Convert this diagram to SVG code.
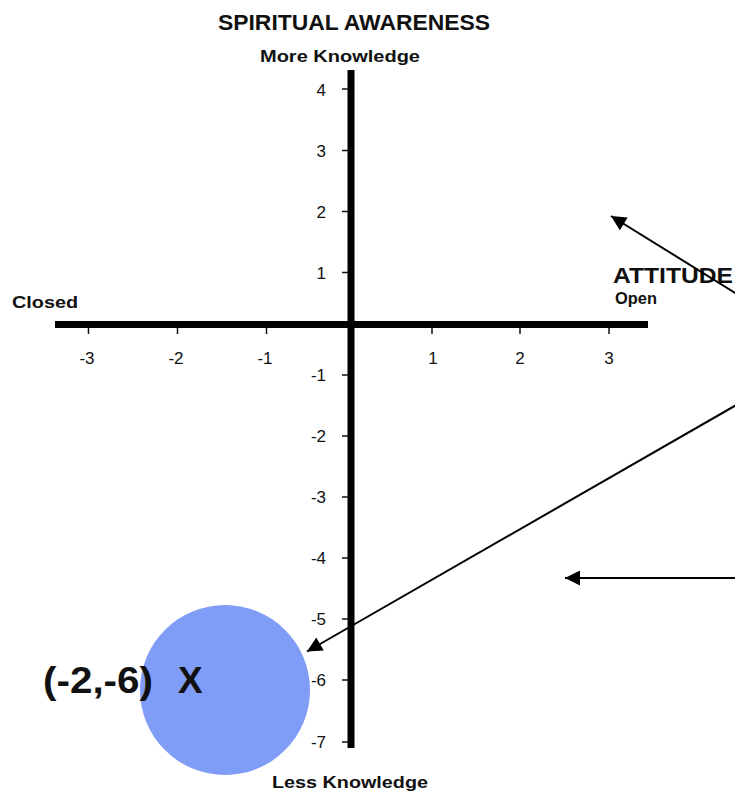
<svg xmlns="http://www.w3.org/2000/svg" width="735" height="793" viewBox="0 0 735 793">
<style>
  text { font-family: "Liberation Sans", Arial, sans-serif; fill: #111; }
  .b { font-weight: bold; }
  .tick { stroke: #111; stroke-width: 1.5; }
  .ylab { font-size: 17px; text-anchor: end; }
  .xlab { font-size: 17px; text-anchor: middle; }
  .conn { stroke: #000; stroke-width: 2; fill: none; marker-end: url(#ah); }
</style>
<defs>
  <marker id="ah" viewBox="0 0 10 10" refX="10" refY="5" markerWidth="9" markerHeight="7.5" markerUnits="strokeWidth" orient="auto">
    <path d="M0,0 L10,5 L0,10 z" fill="#000"/>
  </marker>
</defs>
<rect width="735" height="793" fill="#fff"/>

<g id="point-circle">
  <circle cx="225" cy="690" r="85" fill="#7f9cf7"/>
</g>

<g id="axes">
  <line x1="351" y1="70" x2="351" y2="748" stroke="#000" stroke-width="7"/>
  <line x1="55" y1="324.5" x2="648" y2="324.5" stroke="#000" stroke-width="7"/>
  <g class="tick">
    <line x1="342" y1="89" x2="348" y2="89"/>
    <line x1="342" y1="150.5" x2="348" y2="150.5"/>
    <line x1="342" y1="211.5" x2="348" y2="211.5"/>
    <line x1="342" y1="272.5" x2="348" y2="272.5"/>
    <line x1="342" y1="375" x2="348" y2="375"/>
    <line x1="342" y1="436" x2="348" y2="436"/>
    <line x1="342" y1="497" x2="348" y2="497"/>
    <line x1="342" y1="558" x2="348" y2="558"/>
    <line x1="342" y1="619" x2="348" y2="619"/>
    <line x1="342" y1="680" x2="348" y2="680"/>
    <line x1="342" y1="742" x2="348" y2="742"/>
    <line x1="88.5" y1="328" x2="88.5" y2="334"/>
    <line x1="177.5" y1="328" x2="177.5" y2="334"/>
    <line x1="266.5" y1="328" x2="266.5" y2="334"/>
    <line x1="432" y1="328" x2="432" y2="334"/>
    <line x1="520" y1="328" x2="520" y2="334"/>
    <line x1="609" y1="328" x2="609" y2="334"/>
  </g>
  <g class="ylab">
    <text x="326" y="96">4</text>
    <text x="326" y="157">3</text>
    <text x="326" y="218">2</text>
    <text x="326" y="279">1</text>
    <text x="326" y="381">-1</text>
    <text x="326" y="442">-2</text>
    <text x="326" y="503">-3</text>
    <text x="326" y="564">-4</text>
    <text x="326" y="625">-5</text>
    <text x="326" y="686">-6</text>
    <text x="326" y="748">-7</text>
  </g>
  <g class="xlab">
    <text x="87" y="364">-3</text>
    <text x="176" y="364">-2</text>
    <text x="265" y="364">-1</text>
    <text x="433" y="364">1</text>
    <text x="520" y="364">2</text>
    <text x="609" y="364">3</text>
  </g>
</g>

<g id="title">
  <text class="b" x="218" y="30" font-size="22" textLength="272" lengthAdjust="spacingAndGlyphs">SPIRITUAL AWARENESS</text>
</g>
<g id="more-knowledge">
  <text class="b" x="260" y="62" font-size="17" textLength="160" lengthAdjust="spacingAndGlyphs">More Knowledge</text>
</g>
<g id="less-knowledge">
  <text class="b" x="272" y="788" font-size="17" textLength="156" lengthAdjust="spacingAndGlyphs">Less Knowledge</text>
</g>
<g id="closed">
  <text class="b" x="12" y="308" font-size="17" textLength="66" lengthAdjust="spacingAndGlyphs">Closed</text>
</g>
<g id="attitude">
  <text class="b" x="613" y="283" font-size="22" textLength="120" lengthAdjust="spacingAndGlyphs">ATTITUDE</text>
</g>
<g id="open">
  <text class="b" x="615" y="304" font-size="16" textLength="42" lengthAdjust="spacingAndGlyphs">Open</text>
</g>
<g id="point-label">
  <text class="b" x="43" y="693" font-size="37" textLength="110" lengthAdjust="spacingAndGlyphs">(-2,-6)</text>
  <text class="b" x="178" y="693" font-size="37">X</text>
</g>

<g id="connectors">
  <line class="conn" x1="745" y1="299" x2="611" y2="216"/>
  <line class="conn" x1="745" y1="400" x2="307" y2="651.5"/>
  <line class="conn" x1="745" y1="578" x2="565" y2="578"/>
</g>
</svg>
